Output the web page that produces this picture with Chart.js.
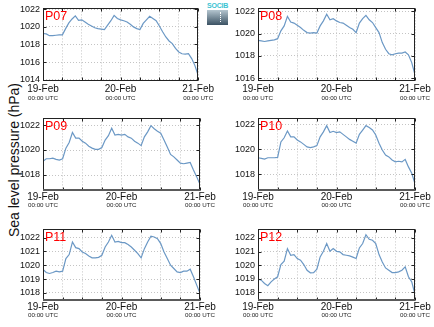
<!DOCTYPE html>
<html>
<head>
<meta charset="utf-8">
<title>Sea level pressure</title>
<script src="https://cdn.jsdelivr.net/npm/chart.js@4.4.1/dist/chart.umd.min.js"></script>
<style>
  html, body { margin: 0; padding: 0; background: #fff; }
  body { width: 434px; height: 327px; position: relative; overflow: hidden;
         font-family: "Liberation Sans", Arial, sans-serif; }
  canvas { position: absolute; }
  #ylab { position: absolute; left: 14px; top: 160px; white-space: nowrap;
          transform: translate(-50%, -50%) rotate(-90deg);
          font-size: 14px; color: #111; }
  #logo { position: absolute; left: 207px; top: 2px; width: 21px; }
  #logo .txt { font-size: 7px; line-height: 7px; color: #3cc3d3; letter-spacing: -0.2px;
               text-align: center; font-weight: bold; }
  #logo .box { position: relative; margin-top: 1px; height: 15px;
               background: linear-gradient(#b4c5cf, #3b5263); }
  #logo .box i { position: absolute; left: 13px; top: 2px; height: 10px;
                 border-left: 1px dotted #fff; }
</style>
</head>
<body>
<div id="ylab">Sea level pressure (hPa)</div>
<div id="logo"><div class="txt">SOCIB</div><div class="box"><i></i></div></div>
<script>
// Hours since 19-Feb 00:00 UTC
const hours = [0,1,2,3,4,5,6,7,8,9,10,11,12,13,14,15,16,17,18,19,20,21,22,23,24,
               25,26,27,28,29,30,31,32,33,34,35,36,37,38,39,40,41,42,43,44,45,46,47,48];
const gridHours = [0, 6, 12, 18, 24, 30, 36, 42, 48];
const xTickHours = [0, 24, 48];
const xDateLabels = ['19-Feb', '20-Feb', '21-Feb'];
const xTimeLabel = '00:00 UTC';

// Hourly sea level pressure (hPa) per station
const p07 = [1019.25,1019.2,1019.0,1019.0,1019.05,1019.1,1019.1,1019.8,1020.45,1020.9,1021.25,1020.75,1020.8,
             1020.55,1020.3,1020.1,1019.9,1019.8,1019.75,1019.7,1020.2,1020.7,1021.3,1020.95,1020.8,
             1020.7,1020.55,1020.3,1020.0,1019.8,1019.7,1020.4,1020.8,1021.2,1020.95,1020.7,1020.1,
             1019.45,1018.85,1018.4,1018.1,1017.55,1017.15,1016.95,1016.9,1016.95,1016.4,1015.6,1014.5];
const p08 = [1019.4,1019.35,1019.3,1019.35,1019.4,1019.45,1019.55,1020.25,1020.7,1021.55,1021.05,1020.95,1020.75,
             1020.55,1020.3,1020.1,1020.05,1020.1,1020.05,1020.7,1021.15,1021.75,1021.25,1021.35,1021.15,
             1021.0,1020.95,1020.75,1020.55,1020.4,1020.1,1020.95,1021.35,1021.65,1021.25,1021.0,1020.55,
             1020.1,1019.2,1018.6,1018.2,1018.1,1018.2,1018.25,1018.25,1018.35,1018.1,1017.4,1016.3];
const p09 = [1019.1,1019.3,1019.3,1019.35,1019.25,1019.2,1019.3,1020.15,1020.6,1021.4,1020.95,1020.95,1020.7,
             1020.55,1020.3,1020.15,1020.05,1020.05,1020.2,1020.8,1021.15,1021.75,1021.2,1021.25,1021.2,
             1021.25,1021.05,1020.95,1020.7,1020.55,1020.35,1021.05,1021.45,1021.95,1021.7,1021.5,1021.35,
             1020.8,1020.25,1019.65,1019.45,1019.2,1018.95,1018.9,1018.95,1019.0,1018.4,1017.85,1017.25];
const p10 = [1019.33,1019.28,1019.22,1019.33,1019.33,1019.33,1019.36,1020.6,1020.93,1021.47,1021.0,1021.0,1020.75,
             1020.6,1020.4,1020.2,1020.15,1020.2,1020.3,1021.0,1021.4,1021.9,1021.35,1021.45,1021.35,
             1021.4,1021.2,1021.0,1020.8,1020.65,1020.5,1021.2,1021.55,1021.9,1021.75,1021.55,1021.15,
             1020.5,1019.95,1019.55,1019.4,1019.15,1019.0,1019.05,1019.0,1019.2,1018.6,1018.1,1017.25];
const p11 = [1019.7,1019.47,1019.4,1019.47,1019.57,1019.52,1019.57,1020.48,1020.77,1021.68,1021.27,1021.2,1020.96,
             1020.84,1020.67,1020.53,1020.53,1020.57,1020.72,1021.32,1021.68,1022.16,1021.68,1021.72,1021.63,
             1021.63,1021.49,1021.32,1021.08,1020.84,1020.53,1021.2,1021.68,1022.1,1022.04,1021.92,1021.56,
             1020.96,1020.48,1020.0,1019.76,1019.52,1019.47,1019.57,1019.57,1019.71,1019.16,1018.56,1017.96];
const p12 = [1018.98,1018.9,1018.66,1018.49,1018.78,1018.98,1019.15,1020.05,1020.3,1021.22,1020.73,1020.78,1020.49,
             1020.37,1020.05,1019.63,1019.44,1019.46,1019.71,1020.61,1021.02,1021.59,1021.02,1021.22,1021.02,
             1020.98,1020.78,1020.73,1020.68,1020.59,1020.49,1021.27,1021.59,1022.24,1021.9,1021.83,1021.59,
             1020.78,1020.24,1019.8,1019.63,1019.46,1019.46,1019.51,1019.63,1019.88,1019.15,1018.78,1017.85];

// Pressure tick labels per station
const ticksP07 = [1014, 1016, 1018, 1020, 1022];
const ticksP08 = [1016, 1018, 1020, 1022];
const ticksP09 = [1018, 1020, 1022];
const ticksP10 = [1018, 1020, 1022];
const ticksP11 = [1018, 1019, 1020, 1021, 1022];
const ticksP12 = [1018, 1019, 1020, 1021, 1022];

const FONT = '"Liberation Sans", Arial, sans-serif';
const LINE = '#6b98c5';
const GRID = '#c4c4c4';

// Grid placement of the six panels
const columns = [ { left: 0,   width: 217, padRight: 17 },
                  { left: 215, width: 219, padRight: 19 } ];
const rows = [ { top: 0,   height: 104, dateAxisH: 13, datePad: 3, thickBottom: false },
               { top: 110, height: 101, dateAxisH: 10, datePad: 1, thickBottom: true },
               { top: 221, height: 100, dateAxisH: 10, datePad: 1, thickBottom: true } ];

const panels = [
  { name: 'P07', values: p07, yTicks: ticksP07, yMin: 1013.85, yMax: 1022.1,  col: 0, row: 0 },
  { name: 'P08', values: p08, yTicks: ticksP08, yMin: 1015.75, yMax: 1022.27, col: 1, row: 0 },
  { name: 'P09', values: p09, yTicks: ticksP09, yMin: 1016.72, yMax: 1022.53, col: 0, row: 1 },
  { name: 'P10', values: p10, yTicks: ticksP10, yMin: 1016.67, yMax: 1022.48, col: 1, row: 1 },
  { name: 'P11', values: p11, yTicks: ticksP11, yMin: 1017.41, yMax: 1022.59, col: 0, row: 2 },
  { name: 'P12', values: p12, yTicks: ticksP12, yMin: 1017.37, yMax: 1022.63, col: 1, row: 2 }
];

// Frame around the plot area, inward tick marks and the station name
const framePlugin = {
  id: 'frame',
  afterDraw(chart, args, opts) {
    const { ctx, chartArea: a } = chart;
    const L = Math.round(a.left) + 0.5, R = Math.round(a.right) - 0.5;
    const T = Math.round(a.top) + 0.5, B = Math.round(a.bottom) - 0.5;
    ctx.save();
    ctx.strokeStyle = '#222';
    ctx.lineWidth = 1;
    ctx.beginPath();
    chart.scales.y.ticks.forEach(t => {
      const y = Math.round(chart.scales.y.getPixelForValue(t.value)) + 0.5;
      ctx.moveTo(L, y); ctx.lineTo(L + 3, y);
      ctx.moveTo(R, y); ctx.lineTo(R - 3, y);
    });
    chart.scales.x.ticks.forEach(t => {
      const x = Math.round(chart.scales.x.getPixelForValue(t.value)) + 0.5;
      ctx.moveTo(x, T); ctx.lineTo(x, T + 3);
      ctx.moveTo(x, B); ctx.lineTo(x, B - 3);
    });
    ctx.stroke();
    ctx.strokeRect(L, T, R - L, B - T);
    if (opts.thickBottom) {
      ctx.strokeStyle = '#5a5a5a';
      ctx.lineWidth = 2;
      ctx.beginPath();
      ctx.moveTo(L - 0.5, B - 0.5); ctx.lineTo(R + 0.5, B - 0.5);
      ctx.stroke();
    }
    ctx.fillStyle = '#ff0000';
    ctx.font = '12.5px ' + FONT;
    ctx.textBaseline = 'alphabetic';
    ctx.textAlign = 'left';
    ctx.fillText(opts.name, a.left + 2, a.top + 12);
    ctx.restore();
  }
};

panels.forEach(p => {
  const c = columns[p.col], r = rows[p.row];
  const cv = document.createElement('canvas');
  cv.width = c.width; cv.height = r.height;
  cv.style.left = c.left + 'px'; cv.style.top = r.top + 'px';
  cv.style.width = c.width + 'px'; cv.style.height = r.height + 'px';
  document.body.appendChild(cv);

  new Chart(cv, {
    type: 'line',
    data: {
      datasets: [{
        data: hours.map((h, i) => ({ x: h, y: p.values[i] })),
        xAxisID: 'x', yAxisID: 'y',
        borderColor: LINE, borderWidth: 1.2, pointRadius: 0, fill: false, tension: 0
      }]
    },
    options: {
      responsive: false, animation: false, devicePixelRatio: 1,
      layout: { padding: { top: 8, right: c.padRight, left: 0, bottom: 0 } },
      plugins: {
        legend: { display: false }, tooltip: { enabled: false },
        frame: { name: p.name, thickBottom: r.thickBottom }
      },
      scales: {
        x: {
          type: 'linear', position: 'bottom', min: 0, max: 48,
          afterBuildTicks: s => { s.ticks = gridHours.map(v => ({ value: v })); },
          afterFit: s => { s.height = r.dateAxisH; },
          ticks: {
            autoSkip: false, maxRotation: 0, minRotation: 0, padding: r.datePad,
            color: '#111', font: { family: FONT, size: 10, lineHeight: 1 },
            callback: v => { const k = xTickHours.indexOf(v); return k < 0 ? '' : xDateLabels[k]; }
          },
          grid: { color: GRID, lineWidth: 1, drawTicks: false },
          border: { display: false, dash: [1, 2] }
        },
        x2: {
          type: 'linear', position: 'bottom', min: 0, max: 48,
          afterBuildTicks: s => { s.ticks = xTickHours.map(v => ({ value: v })); },
          afterFit: s => { s.height = 10; },
          ticks: {
            autoSkip: false, maxRotation: 0, minRotation: 0, padding: 1,
            color: '#222', font: { family: FONT, size: 6.2, lineHeight: 1 },
            callback: () => xTimeLabel
          },
          grid: { display: false, drawTicks: false },
          border: { display: false }
        },
        y: {
          type: 'linear', position: 'left', min: p.yMin, max: p.yMax,
          afterBuildTicks: s => { s.ticks = p.yTicks.map(v => ({ value: v })); },
          afterFit: s => { s.width = 43; },
          ticks: { padding: 3, color: '#111', font: { family: FONT, size: 9 },
                   callback: v => String(v) },
          grid: { color: GRID, lineWidth: 1, drawTicks: false },
          border: { display: false, dash: [1, 2] }
        }
      }
    },
    plugins: [framePlugin]
  });
});
</script>
</body>
</html>
